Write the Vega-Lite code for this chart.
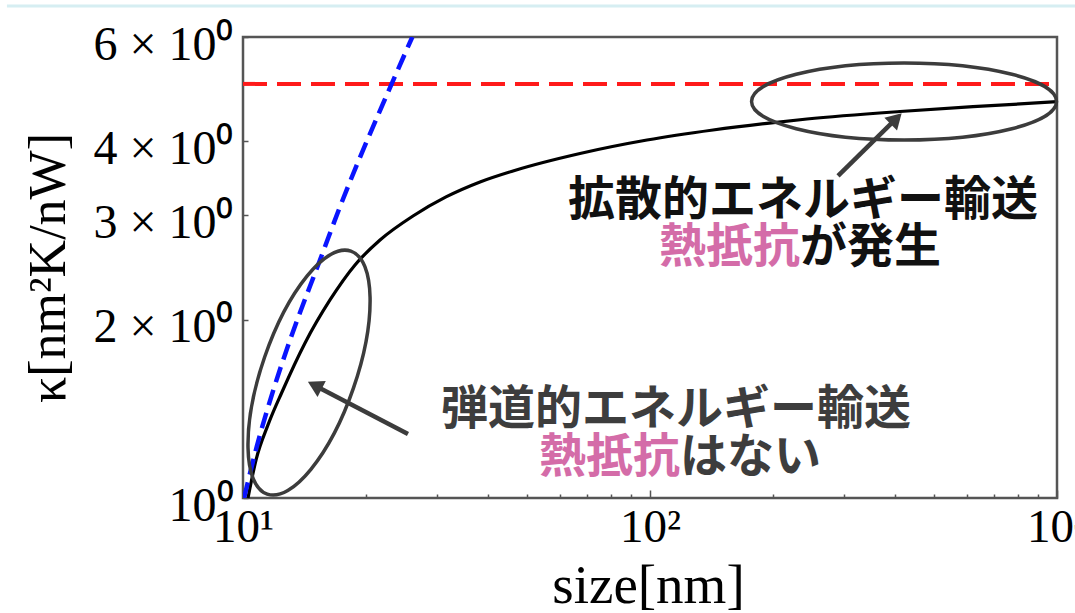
{
  "$schema": "https://vega.github.io/schema/vega-lite/v6.json",
  "width": 814,
  "height": 461,
  "autosize": "none",
  "padding": {"left": 243, "top": 37, "right": 18, "bottom": 115},
  "background": "white",
  "config": {"view": {"stroke": "#555555", "strokeWidth": 2.5}},
  "datasets": {
    "black": [
      {"x": 10.287, "y": 1.0}, {"x": 10.763, "y": 1.159}, {"x": 11.519, "y": 1.3284},
      {"x": 12.47, "y": 1.5098}, {"x": 14.205, "y": 1.8269}, {"x": 16.359, "y": 2.1592},
      {"x": 18.846, "y": 2.4741}, {"x": 21.71, "y": 2.7258}, {"x": 26.163, "y": 2.9923},
      {"x": 31.534, "y": 3.2223}, {"x": 38.227, "y": 3.4155}, {"x": 46.07, "y": 3.5648},
      {"x": 67.298, "y": 3.8148}, {"x": 98.318, "y": 4.02}, {"x": 142.82, "y": 4.1795},
      {"x": 193.85, "y": 4.2898}, {"x": 243.06, "y": 4.3621}, {"x": 411.52, "y": 4.4912},
      {"x": 621.68, "y": 4.5758}, {"x": 1000, "y": 4.6656}
    ],
    "blue": [
      {"x": 10.06, "y": 1.0}, {"x": 10.81, "y": 1.221}, {"x": 11.87, "y": 1.521},
      {"x": 13.05, "y": 1.848}, {"x": 15.46, "y": 2.522}, {"x": 17.31, "y": 3.102},
      {"x": 19.57, "y": 3.818}, {"x": 21.92, "y": 4.576}, {"x": 26.06, "y": 6.0}
    ],
    "red": [{"x": 10, "x2": 1000, "y": 5}],
    "topline": [{"x": 2.63, "x2": 1110, "y": 6.77}],
    "ellipseLeft": [{"x": 14.53, "y": 1.628}],
    "ellipseRight": [{"x": 420.9, "y": 4.67}],
    "arrows": [
      {"arrow": "diffusive", "x": 289.7, "y": 3.496},
      {"arrow": "diffusive", "x": 402.6, "y": 4.368},
      {"arrow": "ballistic", "x": 25.43, "y": 1.282},
      {"arrow": "ballistic", "x": 15.01, "y": 1.549}
    ],
    "headRight": [{"x": 402.6, "y": 4.368}],
    "headLeft": [{"x": 15.01, "y": 1.549}],
    "textRight1": [{"x": 237.6, "y": 3.172, "label": "拡散的エネルギー輸送"}],
    "textRightPink": [{"x": 233.7, "y": 2.643, "label": "熱抵抗"}],
    "textRightBlack": [{"x": 233.7, "y": 2.643, "label": "が発生"}],
    "textLeft1": [{"x": 115.8, "y": 1.408, "label": "弾道的エネルギー輸送"}],
    "textLeftPink": [{"x": 118.5, "y": 1.168, "label": "熱抵抗"}],
    "textLeftGrey": [{"x": 118.5, "y": 1.168, "label": "はない"}]
  },
  "encoding": {
    "x": {
      "field": "x", "type": "quantitative",
      "scale": {"type": "log", "domain": [10, 1000], "nice": false},
      "axis": {
        "title": "size[nm]",
        "values": [10, 20, 30, 40, 50, 60, 70, 80, 90, 100, 200, 300, 400, 500, 600, 700, 800, 900, 1000],
        "labelExpr": "datum.value == 10 ? '10¹' : datum.value == 100 ? '10²' : datum.value == 1000 ? '10³' : ''",
        "grid": false, "domain": false,
        "tickSize": {"condition": {"test": "datum.value == 10 || datum.value == 100 || datum.value == 1000", "value": -8}, "value": -4},
        "tickColor": "#555555", "tickWidth": 1.5,
        "labelFont": "Liberation Serif", "labelFontSize": 47, "labelColor": "#000000",
        "labelPadding": 14, "labelOverlap": false, "labelFlush": false, "labelBound": false,
        "titleFont": "Liberation Serif", "titleFontSize": 55, "titleFontWeight": "normal", "titleColor": "#000000",
        "titleX": 405, "titleY": 104, "titleBaseline": "alphabetic"
      }
    },
    "y": {
      "field": "y", "type": "quantitative",
      "scale": {"type": "log", "domain": [1, 6], "nice": false},
      "axis": {
        "title": "κ[nm²K/nW]",
        "values": [1, 2, 3, 4, 5, 6],
        "labelExpr": "datum.value == 1 ? '10⁰' : datum.value == 5 ? '' : datum.value + ' × 10⁰'",
        "grid": false, "domain": false,
        "tickSize": -5, "tickColor": "#555555", "tickWidth": 1.5,
        "labelFont": "Liberation Serif", "labelFontSize": 48, "labelColor": "#000000",
        "labelPadding": 15, "labelOffset": 8, "labelOverlap": false, "labelFlush": false, "labelBound": false,
        "titleFont": "Liberation Serif", "titleFontSize": 52, "titleFontWeight": "normal", "titleColor": "#000000",
        "titleAngle": -90, "titleX": -195, "titleY": 230.5, "titleBaseline": "middle", "titleAlign": "center"
      }
    }
  },
  "layer": [
    {
      "data": {"name": "topline"},
      "mark": {"type": "rule", "color": "#d6eef2", "strokeWidth": 3, "clip": false},
      "encoding": {"x2": {"field": "x2"}}
    },
    {
      "data": {"name": "red"},
      "mark": {"type": "rule", "color": "#ff1a1a", "strokeWidth": 4, "strokeDash": [24, 10]},
      "encoding": {"x2": {"field": "x2"}}
    },
    {
      "data": {"name": "black"},
      "mark": {"type": "line", "color": "#000000", "strokeWidth": 3.2, "interpolate": "monotone"}
    },
    {
      "data": {"name": "blue"},
      "mark": {"type": "line", "color": "#0a14ff", "strokeWidth": 4.5, "strokeDash": [16, 8], "interpolate": "monotone", "clip": true}
    },
    {
      "data": {"name": "ellipseLeft"},
      "mark": {"type": "point", "shape": "M0,-1A0.366,1,0,1,1,0,1A0.366,1,0,1,1,0,-1Z", "size": 66049, "angle": 19, "filled": false, "stroke": "#3c3c3c", "strokeWidth": 3.5, "opacity": 1}
    },
    {
      "data": {"name": "ellipseRight"},
      "mark": {"type": "point", "shape": "M-1,0A1,0.2525,0,1,1,1,0A1,0.2525,0,1,1,-1,0Z", "size": 93025, "filled": false, "stroke": "#3c3c3c", "strokeWidth": 3.5, "opacity": 1}
    },
    {
      "data": {"name": "arrows"},
      "mark": {"type": "line", "color": "#3c3c3c", "strokeWidth": 4.5},
      "encoding": {"detail": {"field": "arrow"}}
    },
    {
      "data": {"name": "headRight"},
      "mark": {"type": "point", "shape": "triangle-up", "size": 320, "angle": 45, "filled": true, "color": "#3c3c3c", "opacity": 1}
    },
    {
      "data": {"name": "headLeft"},
      "mark": {"type": "point", "shape": "triangle-up", "size": 320, "angle": 297.5, "filled": true, "color": "#3c3c3c", "opacity": 1}
    },
    {
      "data": {"name": "textRight1"},
      "mark": {"type": "text", "font": "Noto Sans CJK JP", "fontWeight": "bold", "fontSize": 47, "color": "#111111", "align": "center", "baseline": "middle"},
      "encoding": {"text": {"field": "label"}}
    },
    {
      "data": {"name": "textRightPink"},
      "mark": {"type": "text", "font": "Noto Sans CJK JP", "fontWeight": "bold", "fontSize": 47, "color": "#d46ca8", "align": "right", "baseline": "middle"},
      "encoding": {"text": {"field": "label"}}
    },
    {
      "data": {"name": "textRightBlack"},
      "mark": {"type": "text", "font": "Noto Sans CJK JP", "fontWeight": "bold", "fontSize": 47, "color": "#111111", "align": "left", "baseline": "middle"},
      "encoding": {"text": {"field": "label"}}
    },
    {
      "data": {"name": "textLeft1"},
      "mark": {"type": "text", "font": "Noto Sans CJK JP", "fontWeight": "bold", "fontSize": 47, "color": "#3d3d3d", "align": "center", "baseline": "middle"},
      "encoding": {"text": {"field": "label"}}
    },
    {
      "data": {"name": "textLeftPink"},
      "mark": {"type": "text", "font": "Noto Sans CJK JP", "fontWeight": "bold", "fontSize": 47, "color": "#d46ca8", "align": "right", "baseline": "middle"},
      "encoding": {"text": {"field": "label"}}
    },
    {
      "data": {"name": "textLeftGrey"},
      "mark": {"type": "text", "font": "Noto Sans CJK JP", "fontWeight": "bold", "fontSize": 47, "color": "#3d3d3d", "align": "left", "baseline": "middle"},
      "encoding": {"text": {"field": "label"}}
    }
  ]
}
